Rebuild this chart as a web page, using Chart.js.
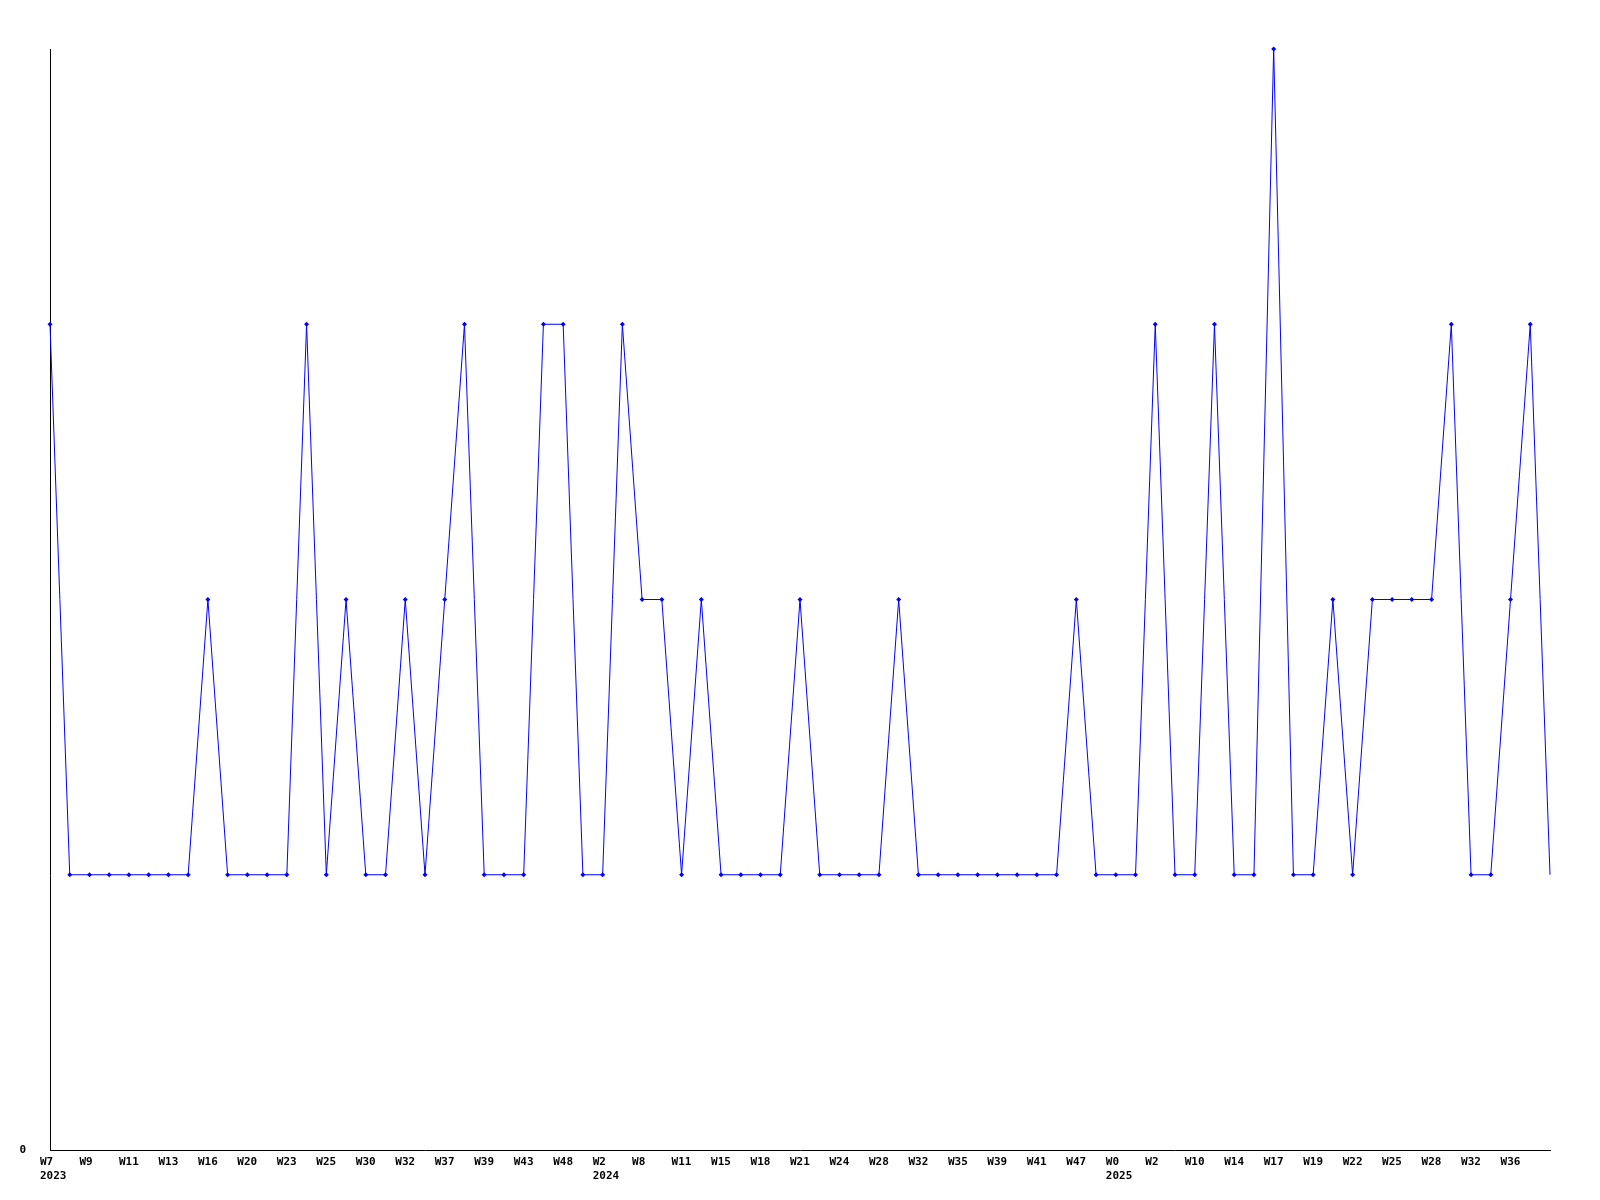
<!DOCTYPE html>
<html>
<head>
<meta charset="utf-8">
<script src="https://cdn.jsdelivr.net/npm/chart.js@4/dist/chart.umd.min.js"></script>
<style>
  body { margin: 0; background: #fff; }
  canvas { display: block; }
</style>
</head>
<body>
<canvas id="weekChart" width="1600" height="1200"></canvas>
<script>
// week of each point (every other one is printed on the axis)
const weeks = [7, 8, 9, 10, 11, 12, 13, 14, 16, 18, 20, 21, 23, 24, 25, 27, 30, 31, 32, 34,
  37, 38, 39, 41, 43, 46, 48, 50, 2, 5, 8, 10, 11, 13, 15, 16, 18, 20, 21, 22,
  24, 26, 28, 30, 32, 34, 35, 37, 39, 40, 41, 44, 47, 50, 0, 1, 2, 7, 10, 12,
  14, 15, 17, 18, 19, 20, 22, 23, 25, 26, 28, 30, 32, 34, 36, 37, 38];
const years = [2023, 2023, 2023, 2023, 2023, 2023, 2023, 2023, 2023, 2023, 2023, 2023, 2023, 2023, 2023, 2023, 2023, 2023, 2023, 2023,
  2023, 2023, 2023, 2023, 2023, 2023, 2023, 2023, 2024, 2024, 2024, 2024, 2024, 2024, 2024, 2024, 2024, 2024, 2024, 2024,
  2024, 2024, 2024, 2024, 2024, 2024, 2024, 2024, 2024, 2024, 2024, 2024, 2024, 2024, 2025, 2025, 2025, 2025, 2025, 2025,
  2025, 2025, 2025, 2025, 2025, 2025, 2025, 2025, 2025, 2025, 2025, 2025, 2025, 2025, 2025, 2025, 2025];
const counts = [3, 1, 1, 1, 1, 1, 1, 1, 2, 1, 1, 1, 1, 3, 1, 2, 1, 1, 2, 1,
  2, 3, 1, 1, 1, 3, 3, 1, 1, 3, 2, 2, 1, 2, 1, 1, 1, 1, 2, 1,
  1, 1, 1, 2, 1, 1, 1, 1, 1, 1, 1, 1, 2, 1, 1, 1, 3, 1, 1, 3,
  1, 1, 4, 1, 1, 2, 1, 2, 2, 2, 2, 3, 1, 1, 2, 3, 1];

const labels = weeks.map((w, i) => 'W' + w);
const lastIdx = counts.length - 1;

const ctx = document.getElementById('weekChart').getContext('2d');
const tickFont = { family: '"DejaVu Sans Mono", monospace', size: 11, weight: 'bold' };

new Chart(ctx, {
  type: 'line',
  data: {
    labels: labels,
    datasets: [{
      data: counts,
      borderColor: '#0000ff',
      backgroundColor: '#0000ff',
      borderWidth: 1,
      tension: 0,
      pointStyle: 'rectRot',
      pointRadius: counts.map((v, i) => i === lastIdx ? 0 : 2.5),
      pointBorderWidth: 0,
      clip: false
    }]
  },
  options: {
    responsive: false,
    animation: false,
    layout: { padding: { top: 49, right: 50, left: 0, bottom: 0 } },
    plugins: { legend: { display: false }, tooltip: { enabled: false } },
    scales: {
      x: {
        offset: false,
        grid: { display: false, drawTicks: false },
        border: { display: true, color: '#000', width: 1 },
        afterFit: function (scale) { scale.height = 50; },
        ticks: {
          autoSkip: false,
          maxRotation: 0,
          minRotation: 0,
          align: 'start',
          labelOffset: -10,
          padding: 6,
          color: '#000',
          font: tickFont,
          callback: function (val, i) {
            if (i % 2 !== 0 || i === lastIdx) return '';
            let prev = i - 2;
            if (prev < 0 || years[prev] !== years[i]) return [labels[i], String(years[i])];
            return labels[i];
          }
        }
      },
      y: {
        min: 0,
        max: 4,
        grid: { display: false, drawTicks: false },
        border: { display: true, color: '#000', width: 1 },
        afterFit: function (scale) { scale.width = 50; },
        ticks: {
          stepSize: 1,
          padding: 24,
          color: '#000',
          font: tickFont,
          callback: function (v) { return v === 0 ? '0' : ''; }
        }
      }
    }
  }
});
</script>
</body>
</html>
